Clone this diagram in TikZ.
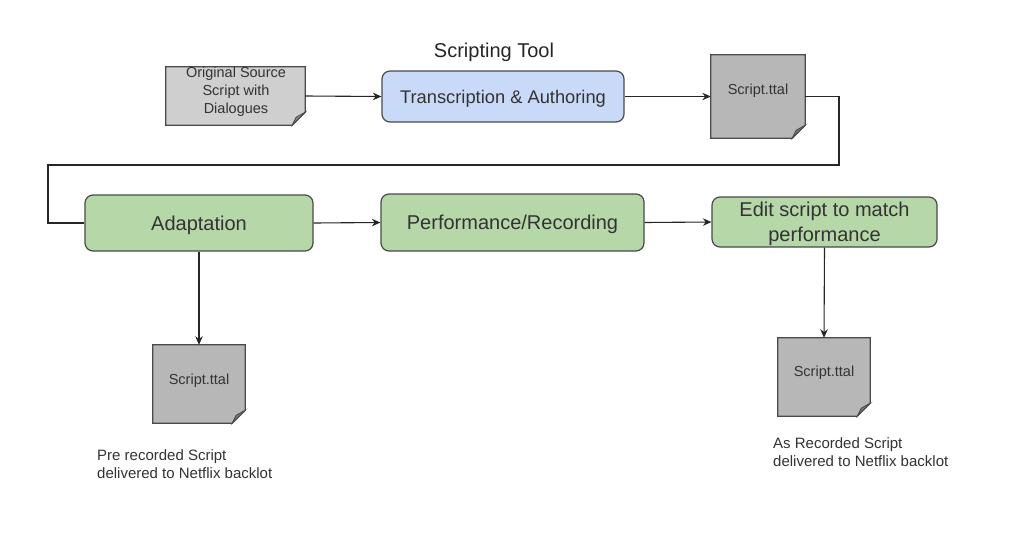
\documentclass[tikz,border=0pt]{standalone}
\usepackage{fontspec}
\setmainfont{Liberation Sans}
\usetikzlibrary{arrows.meta,positioning}
\definecolor{edge}{HTML}{4A4A4A}
\definecolor{txt}{HTML}{333333}
\definecolor{bluefill}{HTML}{C9DAF8}
\definecolor{greenfill}{HTML}{B6D7A8}
\definecolor{docA}{HTML}{CFCFCF}
\definecolor{docB}{HTML}{B7B7B7}
\newcommand{\drawdoc}[2]{%
  \draw[docline,fill=#2] (#1.north west) -- (#1.north east) -- ([yshift=13pt]#1.south east) -- ([xshift=-13pt]#1.south east) -- (#1.south west) -- cycle;
  \draw[docline,line width=0.8pt,fill=#2!65!black] ([yshift=13pt]#1.south east) -- ([xshift=-9pt,yshift=8pt]#1.south east) -- ([xshift=-13pt]#1.south east) -- cycle;
}
\begin{document}
\begin{tikzpicture}[x=1pt,y=-1pt,
  docline/.style={draw=edge,line width=1.2pt,line join=miter},
  docnode/.style={inner sep=0pt,minimum width=#1},
  doctext/.style={text=txt,align=center,inner sep=0pt,font=\fontsize{14.5}{18}\selectfont},
  procbox/.style={draw=edge,line width=1.2pt,rounded corners=8pt,text=txt,align=center,inner sep=0pt,text depth=0pt,font=\fontsize{20}{25}\selectfont},
  conn/.style={draw=black!85,line width=1.1pt},
  arr/.style={conn,-{Stealth[length=8.5pt,width=7.5pt]}},
  caption/.style={text=txt,align=left,anchor=north west,inner sep=0pt,font=\fontsize{15}{18}\selectfont}
]
\useasboundingbox (0,0) rectangle (1024,546);
\fill[white] (0,0) rectangle (1024,546);

% document shapes
\node[docnode=139pt,minimum height=58pt] (orig) at (235.5,96) {};
\node[docnode=94pt,minimum height=83pt] (s1) at (758,96.5) {};
\node[docnode=92pt,minimum height=78pt] (s2) at (199,384) {};
\node[docnode=92pt,minimum height=78pt] (s3) at (824,377) {};
\drawdoc{orig}{docA}
\drawdoc{s1}{docB}
\drawdoc{s2}{docB}
\drawdoc{s3}{docB}
\node[doctext] (origtxt) at (236,92) {Original Source\\Script with\\Dialogues};
\node[doctext] (s1txt) at (758,91) {Script.ttal};
\node[doctext] (s2txt) at (199,381) {Script.ttal};
\node[doctext] (s3txt) at (824,373) {Script.ttal};

% process boxes
\node[procbox,fill=bluefill,minimum width=242pt,minimum height=51pt,font=\fontsize{18.3}{22}\selectfont] (trans) at (503,96.5) {Transcription \& Authoring};
\node[text=black!85,inner sep=0pt,font=\fontsize{20}{22}\selectfont] (tool) at (494,52) {Scripting Tool};
\node[procbox,fill=greenfill,minimum width=228pt,minimum height=56pt] (adapt) at (199,223) {Adaptation};
\node[procbox,fill=greenfill,minimum width=263pt,minimum height=57pt] (perf) at (512.5,222.5) {Performance/Recording};
\node[procbox,fill=greenfill,minimum width=225pt,minimum height=50pt] (edit) at (824.5,222) {Edit script to match\\performance};

% captions
\node[caption] (cap1) at (97,449) {Pre recorded Script\\delivered to Netflix backlot};
\node[caption] (cap2) at (773,437) {As Recorded Script\\delivered to Netflix backlot};

% connectors
\coordinate (c1) at (839,165);
\coordinate (c2) at (48,165);
\draw[arr] (orig.east) -- (trans.west);
\draw[arr] (trans.east) -- (s1.west);
\draw[conn] (s1.east) -| (c1) -- (c2) |- (adapt.west);
\draw[arr] (adapt.east) -- (perf.west);
\draw[arr] (perf.east) -- (edit.west);
\draw[arr] (adapt.south) -- (s2.north);
\draw[arr] (edit.south) -- (s3.north);
\end{tikzpicture}
\end{document}
